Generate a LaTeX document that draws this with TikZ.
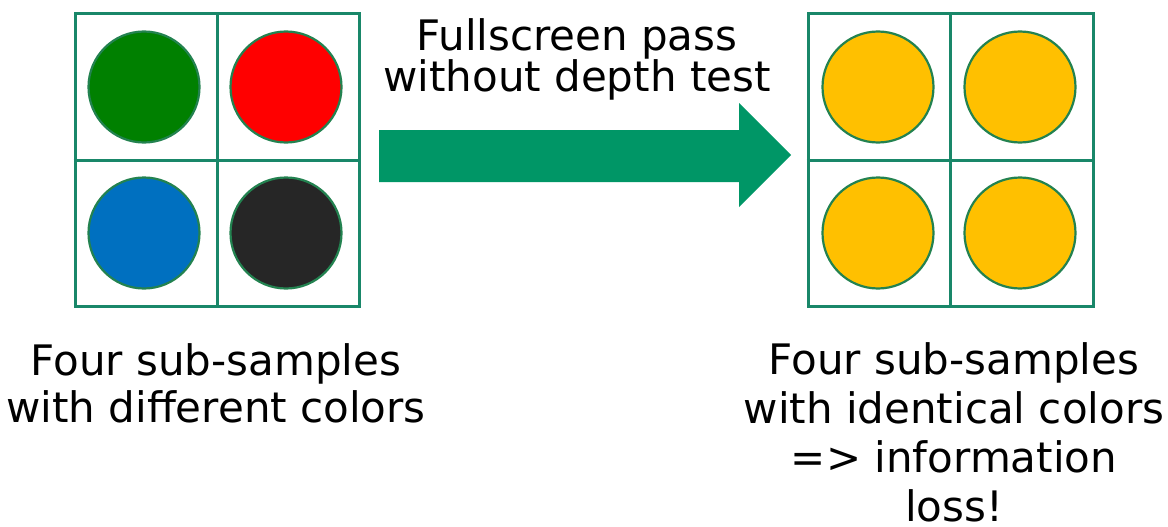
\documentclass[tikz,border=0pt]{standalone}
\usepackage{fontspec}
\setmainfont{DejaVu Sans}
\definecolor{gridc}{RGB}{25,135,105}
\definecolor{arrowc}{RGB}{0,150,102}
\definecolor{sgreen}{RGB}{0,128,0}
\definecolor{sred}{RGB}{255,0,0}
\definecolor{sblue}{RGB}{0,112,192}
\definecolor{sblack}{RGB}{38,38,38}
\definecolor{sgold}{RGB}{255,192,0}
\definecolor{rimc}{RGB}{35,130,80}
\begin{document}
\begin{tikzpicture}[x=1pt,y=-1pt,
  gridbox/.style={draw=gridc, line width=3pt, minimum width=284pt, minimum height=292pt, inner sep=0pt},
  gridline/.style={draw=gridc, line width=3pt},
  dot/.style={circle, draw=rimc, line width=2.2pt, fill=#1, minimum size=111pt, inner sep=0pt},
  lbl/.style={font=\fontsize{42}{47}\selectfont, align=center, inner sep=0pt, anchor=north}]
\useasboundingbox (0,0) rectangle (1168,527);
% left grid
\node[gridbox] (L) at (217,160) {};
\draw[gridline] (L.north) -- (L.south);
\draw[gridline] (L.west) -- (L.east);
\node[dot=sgreen] (L1) at (144,87) {};
\node[dot=sred] (L2) at (286,87) {};
\node[dot=sblue] (L3) at (144,233) {};
\node[dot=sblack] (L4) at (286,233) {};
% right grid
\node[gridbox, minimum width=285pt] (R) at (950.5,160) {};
\draw[gridline] (R.north) -- (R.south);
\draw[gridline] (R.west) -- (R.east);
\node[dot=sgold] (R1) at (878,87) {};
\node[dot=sgold] (R2) at (1020,87) {};
\node[dot=sgold] (R3) at (878,233) {};
\node[dot=sgold] (R4) at (1020,233) {};
% block arrow
\fill[arrowc] (379,130) -- (739,130) -- (739,103) -- (791,155) -- (739,207) -- (739,182) -- (379,182) -- cycle;
% labels
\node[lbl, font=\fontsize{42}{41}\selectfont] (top) at (577,18) {Fullscreen pass\\without depth test};
\node[lbl] (ltext) at (216,343) {Four sub-samples\\with different colors};
\node[lbl, font=\fontsize{42}{49}\selectfont] (rtext) at (954,342) {Four sub-samples\\with identical colors\\=> information\\loss!};
\end{tikzpicture}
\end{document}
